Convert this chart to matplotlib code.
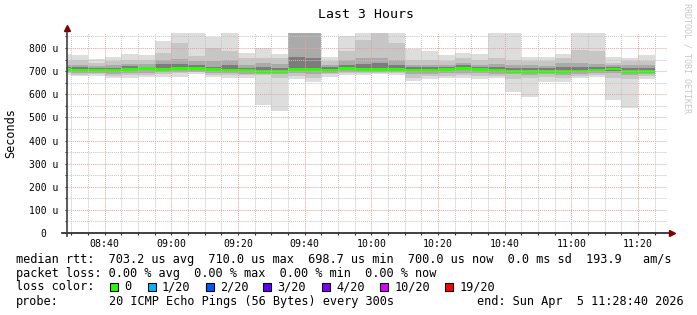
import matplotlib
matplotlib.use('Agg')
import matplotlib.pyplot as plt
import matplotlib.dates as mdates
from matplotlib.patches import Rectangle
import numpy as np
import pandas as pd

plt.rcParams['font.family'] = ['DejaVu Sans Mono']

# 5-minute smokeping steps (bar end times)
times = pd.date_range('2026-04-05 08:30', '2026-04-05 11:25', freq='5min')

# sorted ping "smoke" bands (us), outer -> inner
p_max = [774, 769, 752, 760, 774, 769, 832, 870, 870, 846, 870, 779, 798, 774, 870, 870, 760, 852,
         870, 870, 870, 794, 789, 770, 778, 774, 870, 870, 760, 760, 774, 870, 870, 760, 756, 770]
p_hi1 = [750, 747, 735, 742, 750, 748, 778, 822, 764, 800, 786, 757, 757, 755, 870, 870, 742, 786,
         835, 870, 822, 749, 749, 745, 757, 749, 757, 749, 742, 742, 757, 793, 786, 735, 745, 742]
p_hi2 = [728, 728, 724, 728, 732, 731, 749, 754, 742, 742, 749, 727, 735, 729, 870, 870, 728, 749,
         755, 757, 749, 728, 728, 728, 735, 728, 731, 728, 725, 722, 735, 735, 731, 725, 728, 728]
p_hi3 = [717, 717, 714, 714, 721, 720, 731, 731, 725, 720, 727, 712, 717, 714, 760, 755, 718, 725,
         730, 735, 728, 717, 717, 717, 725, 717, 717, 712, 714, 712, 717, 717, 717, 717, 714, 714]
median = [707, 702, 702, 702, 708, 710, 708, 710, 710, 708, 702, 702, 698.7, 699, 707, 707, 702, 710,
          707, 707, 707, 703, 703, 708, 710, 708, 702, 700, 700, 700, 700, 701, 705, 709, 700, 700]
p_lo3 = [702, 696, 696, 696, 701, 703, 701, 703, 704, 702, 696, 696, 693, 692, 701, 700, 697, 704,
         702, 703, 703, 696, 697, 702, 704, 701, 696, 694, 695, 695, 695, 695, 699, 702, 695, 695]
p_lo2 = [696, 690, 691, 688, 690, 694, 695, 697, 698, 693, 690, 689, 688, 686, 690, 688, 692, 697,
         696, 697, 696, 686, 689, 691, 692, 690, 689, 686, 685, 686, 685, 689, 692, 690, 685, 687]
p_lo1 = [690, 685, 688, 680, 682, 685, 688, 690, 695, 685, 685, 682, 682, 670, 680, 672, 688, 690,
         690, 692, 690, 672, 678, 680, 682, 678, 680, 668, 670, 675, 672, 680, 684, 672, 668, 678]
p_min = [683, 679, 679, 669, 669, 676, 676, 676, 688, 673, 669, 669, 555, 526, 665, 654, 676, 683,
         683, 688, 683, 659, 666, 669, 669, 666, 669, 611, 590, 654, 654, 669, 673, 575, 539, 665]

loss_labels = ['0', '1/20', '2/20', '3/20', '4/20', '10/20', '19/20']
loss_colors = ['#26ff00', '#00b8ff', '#0059ff', '#5e00ff', '#7e00ff', '#dd00ff', '#ff0000']

W, H = 697, 315
fig = plt.figure(figsize=(W / 100, H / 100), dpi=100)
fig.patch.set_facecolor('white')
ax = fig.add_axes([67 / W, (H - 233) / H, 600 / W, 200 / H])

step = 5 / 1440
left = mdates.date2num(times.to_pydatetime()) - step

layers = [(p_min, p_max, '#dddddd'), (p_lo1, p_hi1, '#c6c6c6'),
          (p_lo2, p_hi2, '#aaaaaa'), (p_lo3, p_hi3, '#7c7c7c')]
for lo, hi, col in layers:
    ax.bar(left, np.subtract(hi, lo), bottom=lo, width=step, align='edge',
           color=col, linewidth=0, antialiased=False, zorder=1)
ax.bar(left, 12, bottom=np.array(median) - 6, width=step, align='edge',
       color=loss_colors[0], linewidth=0, antialiased=False, zorder=1.5)

ax.set_xlim(mdates.date2num(pd.Timestamp('2026-04-05 08:28:40')),
            mdates.date2num(pd.Timestamp('2026-04-05 11:28:40')))
ax.set_ylim(0, 865)

ax.xaxis.set_major_locator(mdates.MinuteLocator(byminute=[0, 20, 40]))
ax.xaxis.set_minor_locator(mdates.MinuteLocator(byminute=range(0, 60, 5)))
ax.xaxis.set_major_formatter(mdates.DateFormatter('%H:%M'))
yt = list(range(0, 900, 100))
ax.set_yticks(yt)
ax.set_yticklabels([f'{v} u' if v else '0  ' for v in yt])
ax.set_yticks(range(50, 900, 100), minor=True)

ax.set_axisbelow(False)
ax.grid(which='minor', color='#c4c4c4', linestyle=(0, (1, 1)), linewidth=0.7)
ax.grid(which='major', color='#eaa0a0', linestyle=(0, (1, 1)), linewidth=0.7)
ax.tick_params(which='both', direction='out', length=1.5, width=0.8, color='#303030')
ax.tick_params(axis='y', labelsize=7, pad=4.5)
ax.tick_params(axis='x', labelsize=7.1, pad=2.5)
for s in ax.spines.values():
    s.set_visible(False)

# axes with arrows
ax.plot([-5 / 600, 1 + 4 / 600], [0, 0], color='#202020', lw=1.2,
        transform=ax.transAxes, clip_on=False, zorder=5)
ax.plot([0, 0], [-3 / 200, 1 + 4 / 200], color='#404040', lw=1.2,
        transform=ax.transAxes, clip_on=False, zorder=5)
ax.plot([1 + 5 / 600], [0], marker='>', color='#800000', ms=4,
        transform=ax.transAxes, clip_on=False, zorder=6)
ax.plot([0], [1 + 5 / 200], marker='^', color='#800000', ms=4,
        transform=ax.transAxes, clip_on=False, zorder=6)

fig.text(366 / W, 1 - 14 / H, 'Last 3 Hours', ha='center', va='center', fontsize=9.5)
fig.text(11 / W, 1 - 133 / H, 'Seconds', ha='center', va='center', rotation=90, fontsize=8.6)
fig.text(687 / W, 1 - 58 / H, 'RRDTOOL / TOBI OETIKER', ha='center', va='center',
         rotation=270, fontsize=6, color='#c8c8c8')

fs = 8.6
def line(x, y, s, ha='left'):
    fig.text(x / W, 1 - y / H, s, ha=ha, va='center', fontsize=fs)

line(16, 259, 'median rtt:  703.2 us avg  710.0 us max  698.7 us min  700.0 us now  0.0 ms sd  193.9   am/s')
line(16, 273, 'packet loss: 0.00 % avg  0.00 % max  0.00 % min  0.00 % now')
line(16, 287, 'loss color:')
sq_x = [109.5, 147.5, 205.5, 262.7, 321.7, 380, 445]
for x, lab, col in zip(sq_x, loss_labels, loss_colors):
    fig.patches.append(Rectangle((x / W, 1 - 291 / H), 8 / W, 8 / H, transform=fig.transFigure,
                                 facecolor=col, edgecolor='black', lw=0.8))
    line(x + 14.5, 287, lab)
line(16, 301, 'probe:')
line(108.6, 301, '20 ICMP Echo Pings (56 Bytes) every 300s')
line(684, 301, 'end: Sun Apr  5 11:28:40 2026', ha='right')

fig.savefig('out.png', dpi=100)
